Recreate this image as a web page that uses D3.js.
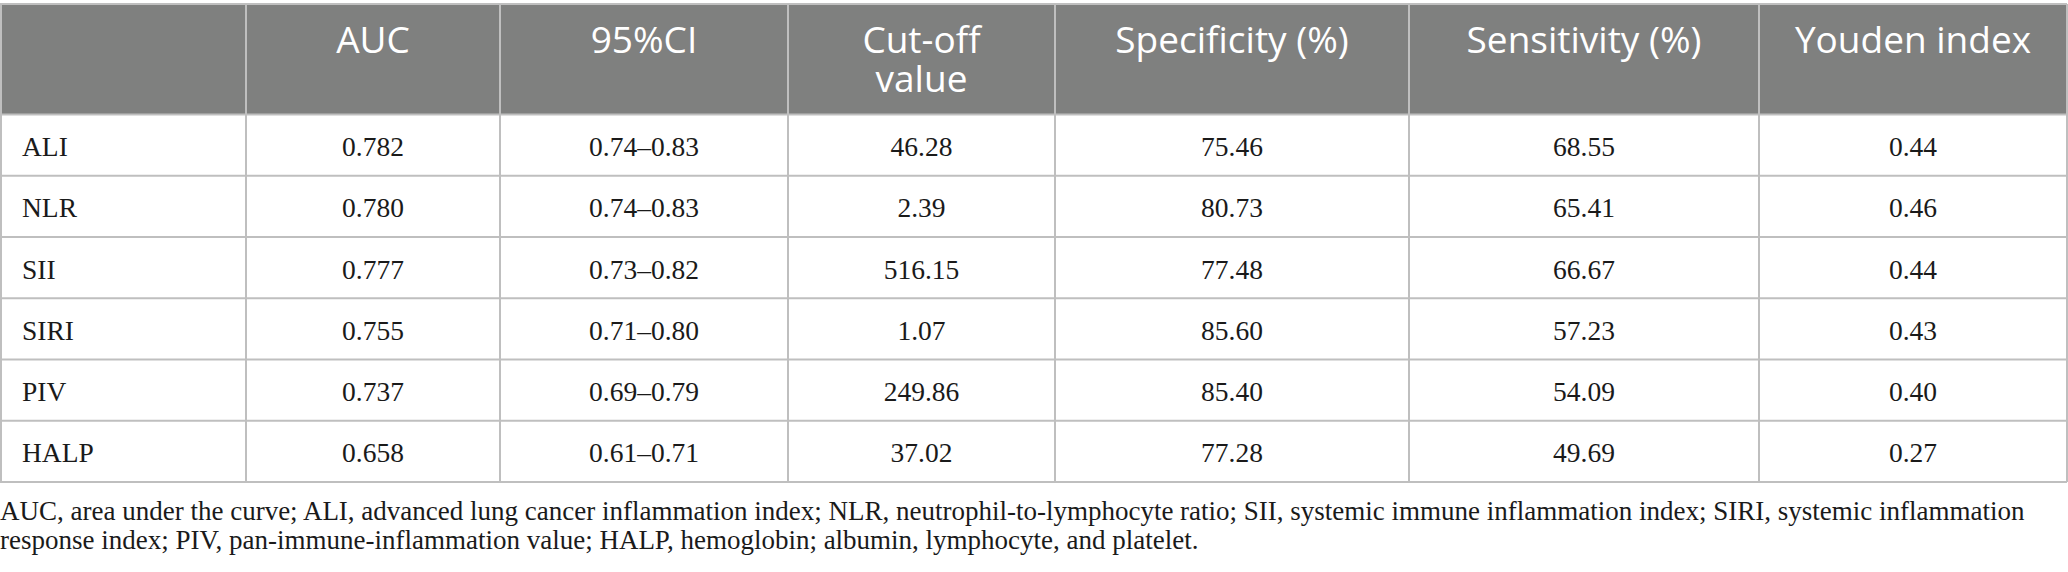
<!DOCTYPE html>
<html><head><meta charset="utf-8">
<script src="https://cdn.jsdelivr.net/npm/d3@7"></script>
<style>html,body{margin:0;padding:0;background:#fff;}svg{display:block;}</style>
</head><body>
<script>
// ---- data ----
const headers = ["", "AUC", "95%CI", "Cut-off\nvalue", "Specificity (%)", "Sensitivity (%)", "Youden index"];
const categories = ["ALI", "NLR", "SII", "SIRI", "PIV", "HALP"];
const auc = ["0.782", "0.780", "0.777", "0.755", "0.737", "0.658"];
const ci95 = ["0.74–0.83", "0.74–0.83", "0.73–0.82", "0.71–0.80", "0.69–0.79", "0.61–0.71"];
const cutoff = ["46.28", "2.39", "516.15", "1.07", "249.86", "37.02"];
const specificity = ["75.46", "80.73", "77.48", "85.60", "85.40", "77.28"];
const sensitivity = ["68.55", "65.41", "66.67", "57.23", "54.09", "49.69"];
const youden = ["0.44", "0.46", "0.44", "0.43", "0.40", "0.27"];
const footnote = [
  "AUC, area under the curve; ALI, advanced lung cancer inflammation index; NLR, neutrophil-to-lymphocyte ratio; SII, systemic immune inflammation index; SIRI, systemic inflammation",
  "response index; PIV, pan-immune-inflammation value; HALP, hemoglobin; albumin, lymphocyte, and platelet."
];

const columns = [categories, auc, ci95, cutoff, specificity, sensitivity, youden];

// ---- layout ----
const W = 2068, H = 572;
const colEdges = [0, 246, 500, 788, 1055, 1409, 1759, 2067];
const headTop = 4, headBottom = 114.5, tableBottom = 482;
const border = "#bfbfbf", headFill = "#7f807f", ink = "#1a1a1a";

const svg = d3.select("body").append("svg").attr("width", W).attr("height", H);

const colIdx = d3.range(headers.length);
const xLeft = d3.scaleOrdinal().domain(colIdx).range(colEdges.slice(0, -1));
const xRight = d3.scaleOrdinal().domain(colIdx).range(colEdges.slice(1));
const xMid = i => (xLeft(i) + xRight(i)) / 2;
const y = d3.scaleBand().domain(categories).range([headBottom, tableBottom]);

// header background
svg.append("rect").attr("x", 0).attr("y", headTop).attr("width", colEdges[colEdges.length-1])
  .attr("height", headBottom - headTop).attr("fill", headFill);

// header text
const hg = svg.append("g").attr("font-family", "'Open Sans', sans-serif").attr("font-size", 37)
  .attr("fill", "#fff").attr("text-anchor", "middle");
headers.forEach((h, i) => {
  h.split("\n").forEach((line, k) => {
    hg.append("text").attr("x", xMid(i)).attr("y", 53 + k * 39).text(line);
  });
});

// body text
const bg = svg.append("g").attr("font-family", "'Liberation Serif', 'Times New Roman', serif")
  .attr("font-size", 27.5).attr("fill", ink);
columns.forEach((vals, i) => {
  bg.selectAll(null).data(categories).enter().append("text")
    .attr("x", i === 0 ? 22 : xMid(i))
    .attr("text-anchor", i === 0 ? "start" : "middle")
    .attr("y", d => y(d) + 41.5)
    .text((d, r) => vals[r]);
});

// grid lines
const lg = svg.append("g").attr("stroke", border).attr("stroke-width", 2).attr("fill", "none");
[headTop, headBottom].concat(categories.map(c => y(c) + y.bandwidth())).forEach(yy => {
  lg.append("line").attr("x1", 0).attr("x2", colEdges[colEdges.length-1]).attr("y1", yy).attr("y2", yy);
});
colEdges.forEach((xx, i) => {
  lg.append("line").attr("x1", i === 0 ? 1 : xx).attr("x2", i === 0 ? 1 : xx)
    .attr("y1", headTop).attr("y2", tableBottom);
});

// footnote (first line justified to the table width, like the source)
const fg = svg.append("g").attr("font-family", "'Liberation Serif', 'Times New Roman', serif")
  .attr("font-size", 27).attr("fill", ink);
footnote.forEach((line, k) => {
  const t = fg.append("text").attr("x", 0).attr("y", 520 + k * 29).text(line);
  if (k < footnote.length - 1) {
    const target = 2013;
    const len = t.node().getComputedTextLength();
    const gaps = (line.match(/ /g) || []).length;
    if (gaps > 0 && len < target) t.attr("word-spacing", (target - len) / gaps);
  }
});
</script>
</body></html>
